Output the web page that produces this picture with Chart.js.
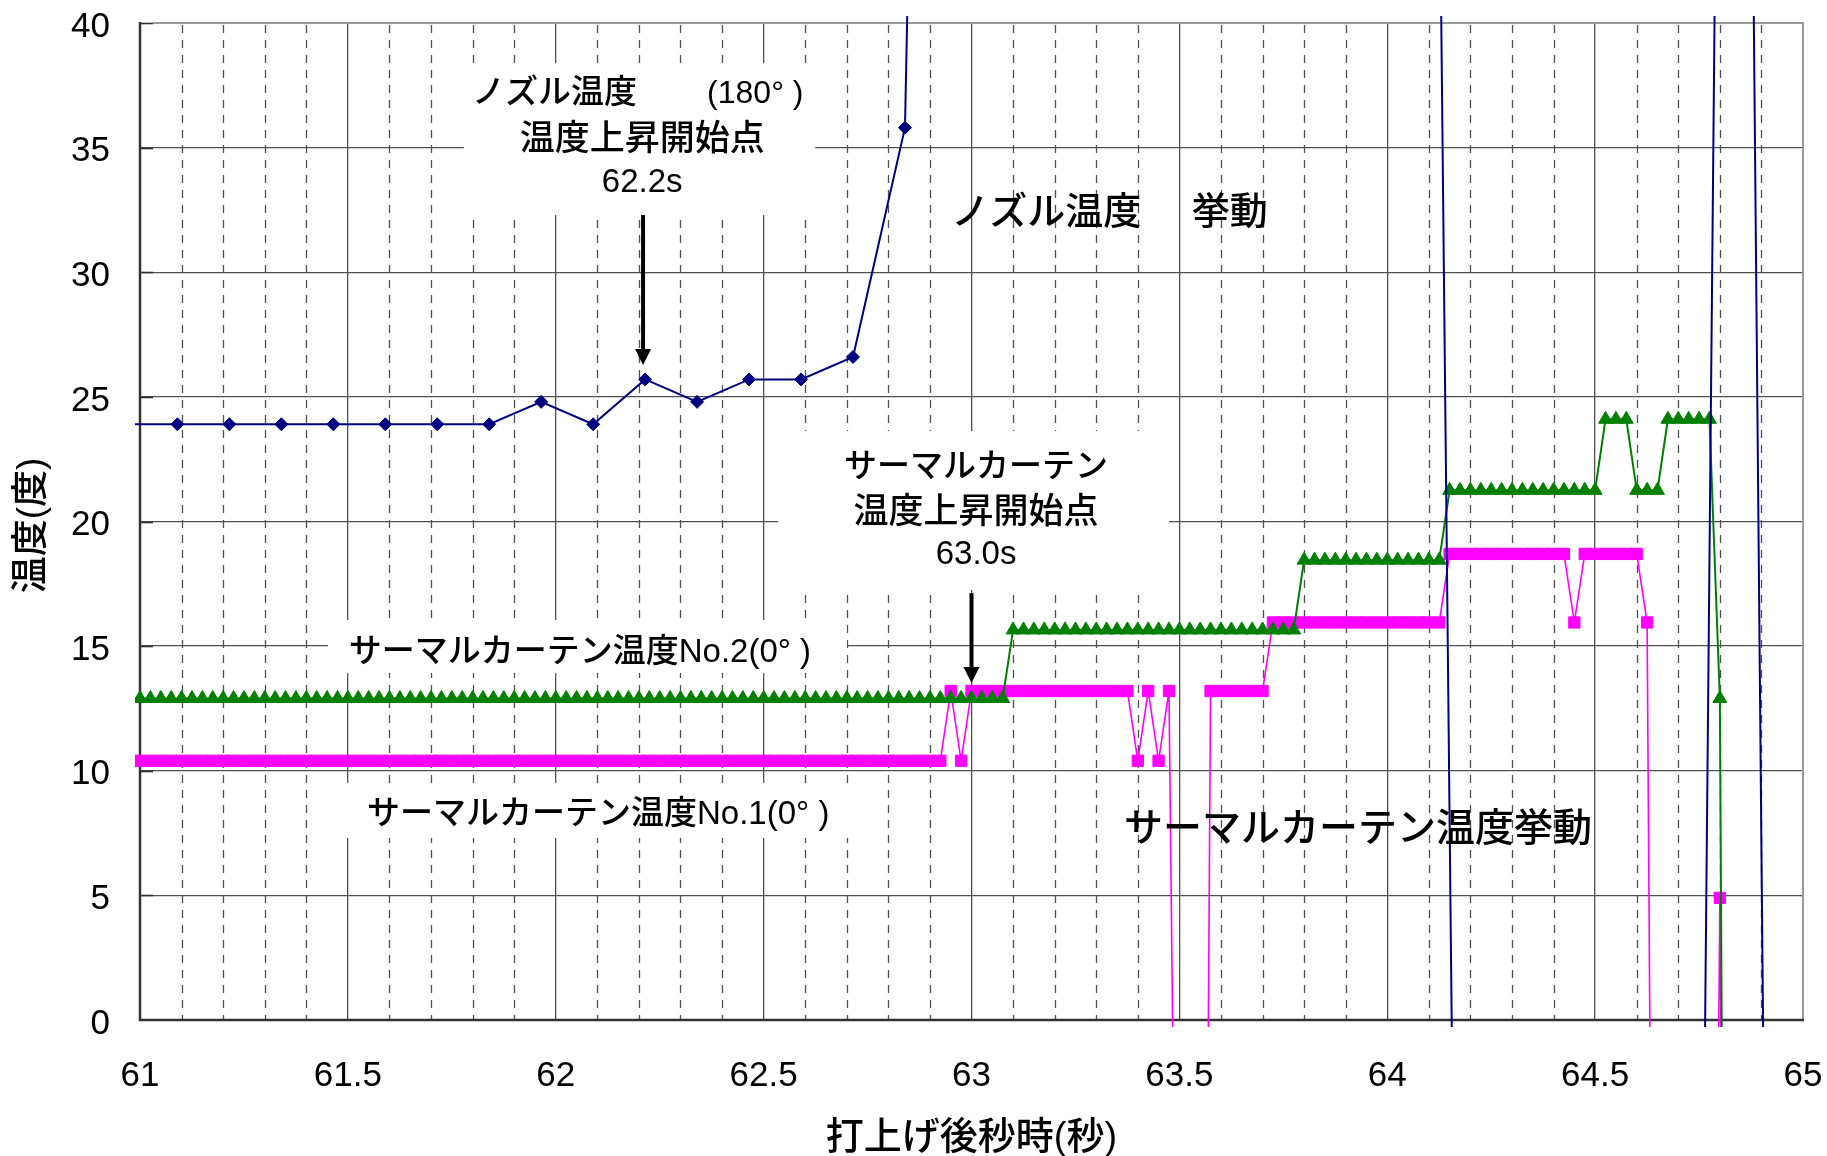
<!DOCTYPE html>
<html lang="ja">
<head>
<meta charset="utf-8">
<title>ノズル温度・サーマルカーテン温度挙動</title>
<script src="https://cdn.jsdelivr.net/npm/chart.js@4.4.1/dist/chart.umd.min.js"></script>
<style>
  html, body { margin: 0; padding: 0; background: #fff; }
  #wrap { width: 1827px; height: 1156px; }
</style>
</head>
<body>
<div id="wrap"><canvas id="c" width="1827" height="1156"></canvas></div>
<script>
// ---- measured data -------------------------------------------------------
// thermal curtain sensors, sampled every 0.025 s (seconds after launch)
const curtainTime = [
  60.975,
  61,61.025,61.05,61.075,61.1,61.125,61.15,61.175,61.2,61.225,
  61.25,61.275,61.3,61.325,61.35,61.375,61.4,61.425,61.45,61.475,
  61.5,61.525,61.55,61.575,61.6,61.625,61.65,61.675,61.7,61.725,
  61.75,61.775,61.8,61.825,61.85,61.875,61.9,61.925,61.95,61.975,
  62,62.025,62.05,62.075,62.1,62.125,62.15,62.175,62.2,62.225,
  62.25,62.275,62.3,62.325,62.35,62.375,62.4,62.425,62.45,62.475,
  62.5,62.525,62.55,62.575,62.6,62.625,62.65,62.675,62.7,62.725,
  62.75,62.775,62.8,62.825,62.85,62.875,62.9,62.925,62.95,62.975,
  63,63.025,63.05,63.075,63.1,63.125,63.15,63.175,63.2,63.225,
  63.25,63.275,63.3,63.325,63.35,63.375,63.4,63.425,63.45,63.475,
  63.5,63.525,63.55,63.575,63.6,63.625,63.65,63.675,63.7,63.725,
  63.75,63.775,63.8,63.825,63.85,63.875,63.9,63.925,63.95,63.975,
  64,64.025,64.05,64.075,64.1,64.125,64.15,64.175,64.2,64.225,
  64.25,64.275,64.3,64.325,64.35,64.375,64.4,64.425,64.45,64.475,
  64.5,64.525,64.55,64.575,64.6,64.625,64.65,64.675,64.7,64.725,
  64.75,64.775,64.8,64.825
];

// サーマルカーテン温度No.2(0°)
const curtainNo2 = [
  12.9,
  12.9,12.9,12.9,12.9,12.9,12.9,12.9,12.9,12.9,12.9,
  12.9,12.9,12.9,12.9,12.9,12.9,12.9,12.9,12.9,12.9,
  12.9,12.9,12.9,12.9,12.9,12.9,12.9,12.9,12.9,12.9,
  12.9,12.9,12.9,12.9,12.9,12.9,12.9,12.9,12.9,12.9,
  12.9,12.9,12.9,12.9,12.9,12.9,12.9,12.9,12.9,12.9,
  12.9,12.9,12.9,12.9,12.9,12.9,12.9,12.9,12.9,12.9,
  12.9,12.9,12.9,12.9,12.9,12.9,12.9,12.9,12.9,12.9,
  12.9,12.9,12.9,12.9,12.9,12.9,12.9,12.9,12.9,12.9,
  12.9,12.9,12.9,12.9,15.65,15.65,15.65,15.65,15.65,15.65,
  15.65,15.65,15.65,15.65,15.65,15.65,15.65,15.65,15.65,15.65,
  15.65,15.65,15.65,15.65,15.65,15.65,15.65,15.65,15.65,15.65,
  15.65,15.65,18.45,18.45,18.45,18.45,18.45,18.45,18.45,18.45,
  18.45,18.45,18.45,18.45,18.45,18.45,21.25,21.25,21.25,21.25,
  21.25,21.25,21.25,21.25,21.25,21.25,21.25,21.25,21.25,21.25,
  21.25,24.1,24.1,24.1,21.25,21.25,21.25,24.1,24.1,24.1,
  24.1,24.1,12.9,-60
];

// サーマルカーテン温度No.1(0°)
const curtainNo1 = [
  10.4,
  10.4,10.4,10.4,10.4,10.4,10.4,10.4,10.4,10.4,10.4,
  10.4,10.4,10.4,10.4,10.4,10.4,10.4,10.4,10.4,10.4,
  10.4,10.4,10.4,10.4,10.4,10.4,10.4,10.4,10.4,10.4,
  10.4,10.4,10.4,10.4,10.4,10.4,10.4,10.4,10.4,10.4,
  10.4,10.4,10.4,10.4,10.4,10.4,10.4,10.4,10.4,10.4,
  10.4,10.4,10.4,10.4,10.4,10.4,10.4,10.4,10.4,10.4,
  10.4,10.4,10.4,10.4,10.4,10.4,10.4,10.4,10.4,10.4,
  10.4,10.4,10.4,10.4,10.4,10.4,10.4,10.4,13.2,10.4,
  13.2,13.2,13.2,13.2,13.2,13.2,13.2,13.2,13.2,13.2,
  13.2,13.2,13.2,13.2,13.2,13.2,10.4,13.2,10.4,13.2,
  -25,-50,-50,13.2,13.2,13.2,13.2,13.2,13.2,15.95,
  15.95,15.95,15.95,15.95,15.95,15.95,15.95,15.95,15.95,15.95,
  15.95,15.95,15.95,15.95,15.95,15.95,18.7,18.7,18.7,18.7,
  18.7,18.7,18.7,18.7,18.7,18.7,18.7,18.7,15.95,18.7,
  18.7,18.7,18.7,18.7,18.7,15.95,-45,-45,-45,-45,
  -45,-45,4.9,-45
];

// ノズル温度(180°), sampled about every 0.125 s
const nozzleTime = [
  60.965, 61.09, 61.215, 61.34, 61.465, 61.59, 61.715, 61.84, 61.965, 62.09,
  62.215, 62.34, 62.465, 62.59, 62.715, 62.84, 62.96, 63.085, 63.21, 63.335,
  63.46, 63.585, 63.71, 63.835, 63.96, 64.085, 64.21, 64.335, 64.46, 64.585,
  64.71, 64.835, 64.96
];
const nozzle180 = [
  23.9, 23.9, 23.9, 23.9, 23.9, 23.9, 23.9, 23.9, 24.8, 23.9,
  25.7, 24.8, 25.7, 25.7, 26.6, 35.8, 136, 210, 280, 330,
  360, 380, 350, 300, 220, 112, -88, -100, -100, -100,
  -97, 125, -102
];

// axis ranges and tick steps
const xRange = [61, 65];
const xMajorStep = 0.5;
const xMinorStep = 0.1;
const yRange = [0, 40];
const yStep = 5;

const xTitle = '打上げ後秒時(秒)';
const yTitle = '温度(度)';

// ---- annotation layout (in data units) -----------------------------------
const maskBoxes = [
  { t0: 61.779, t1: 62.624, v0: 32.30, v1: 38.39 },
  { t0: 62.535, t1: 63.475, v0: 17.25, v1: 23.63 },
  { t0: 61.452, t1: 62.700, v0: 13.92, v1: 16.05 },
  { t0: 61.488, t1: 62.737, v0: 7.30,  v1: 9.51 }
];
const notes = [
  { t: 61.7985, v: 37.15, text: 'ノズル温度', align: 'left', size: 33 },
  { t: 62.364, v: 37.15, text: '(180° )', align: 'left', size: 32 },
  { t: 62.208, v: 35.29, text: '温度上昇開始点', align: 'center', size: 35 },
  { t: 62.208, v: 33.57, text: '62.2s', align: 'center', size: 33 },
  { t: 63.011, v: 22.17, text: 'サーマルカーテン', align: 'center', size: 33 },
  { t: 63.011, v: 20.31, text: '温度上昇開始点', align: 'center', size: 35 },
  { t: 63.011, v: 18.64, text: '63.0s', align: 'center', size: 33 },
  { t: 61.502, v: 14.73, text: 'サーマルカーテン温度No.2(0° )', align: 'left', size: 33 },
  { t: 61.546, v: 8.21,  text: 'サーマルカーテン温度No.1(0° )', align: 'left', size: 33 },
  { t: 62.951, v: 32.36, text: 'ノズル温度', align: 'left', size: 38 },
  { t: 63.530, v: 32.36, text: '挙動', align: 'left', size: 38 },
  { t: 63.367, v: 7.61,  text: 'サーマルカーテン温度挙動', align: 'left', size: 39 }
];
const arrows = [
  { t: 62.21, from: 32.3, to: 26.28 },
  { t: 63.0,  from: 17.13, to: 13.52 }
];

// ---- drawing --------------------------------------------------------------
const FONT = '"Liberation Sans", "Noto Sans CJK JP", Arial, sans-serif';
const pts = (xs, ys) => xs.map((x, i) => ({ x: x, y: ys[i] }));
const CLIP = { left: 5, top: 7, right: 7, bottom: 7 };

const framePlugin = {
  id: 'frame',
  beforeDatasetsDraw(chart) {
    const { ctx, chartArea: a, scales: { x, y } } = chart;
    ctx.save();
    // dashed minor verticals
    ctx.strokeStyle = '#505050';
    ctx.lineWidth = 1.3;
    ctx.setLineDash([8, 7]);
    const nMinor = Math.round((xRange[1] - xRange[0]) / xMinorStep);
    const perMajor = Math.round(xMajorStep / xMinorStep);
    for (let i = 1; i < nMinor; i++) {
      if (i % perMajor === 0) continue;
      const px = Math.round(x.getPixelForValue(xRange[0] + i * xMinorStep)) + 0.5;
      ctx.beginPath();
      ctx.moveTo(px, a.top + 2);
      ctx.lineTo(px, a.bottom);
      ctx.stroke();
    }
    ctx.setLineDash([]);
    // white boxes behind the captions
    ctx.fillStyle = '#ffffff';
    maskBoxes.forEach(b => {
      const l = x.getPixelForValue(b.t0), r = x.getPixelForValue(b.t1);
      const t = y.getPixelForValue(b.v1), bt = y.getPixelForValue(b.v0);
      ctx.fillRect(l, t, r - l, bt - t);
    });
    // inner tick marks on the value axis
    ctx.strokeStyle = '#303030';
    ctx.lineWidth = 1.6;
    for (let v = yRange[0] + yStep; v <= yRange[1]; v += yStep) {
      const py = Math.round(y.getPixelForValue(v)) + 0.5;
      ctx.beginPath();
      ctx.moveTo(a.left, py);
      ctx.lineTo(a.left + 13, py);
      ctx.stroke();
    }
    // plot frame: light top/right, dark axes
    ctx.strokeStyle = '#9a9a9a';
    ctx.lineWidth = 2;
    ctx.beginPath();
    ctx.moveTo(a.left + 13, a.top);
    ctx.lineTo(a.right, a.top);
    ctx.lineTo(a.right, a.bottom);
    ctx.stroke();
    ctx.strokeStyle = '#333333';
    ctx.lineWidth = 2.5;
    ctx.beginPath();
    ctx.moveTo(a.left, a.top - 1);
    ctx.lineTo(a.left, a.bottom);
    ctx.lineTo(a.right + 1, a.bottom);
    ctx.stroke();
    ctx.restore();
  },
  afterDatasetsDraw(chart) {
    const { ctx, chartArea: a, scales: { x, y } } = chart;
    ctx.save();
    ctx.fillStyle = '#000';
    ctx.textBaseline = 'middle';
    notes.forEach(n => {
      ctx.font = '500 ' + n.size + 'px ' + FONT;
      ctx.textAlign = n.align;
      ctx.fillText(n.text, x.getPixelForValue(n.t), y.getPixelForValue(n.v));
    });
    // arrows
    ctx.strokeStyle = '#000';
    ctx.lineWidth = 4;
    arrows.forEach(ar => {
      const px = x.getPixelForValue(ar.t);
      const y0 = y.getPixelForValue(ar.from);
      const y1 = y.getPixelForValue(ar.to);
      ctx.beginPath();
      ctx.moveTo(px, y0);
      ctx.lineTo(px, y1 - 12);
      ctx.stroke();
      ctx.beginPath();
      ctx.moveTo(px - 8, y1 - 16);
      ctx.lineTo(px + 8, y1 - 16);
      ctx.lineTo(px, y1);
      ctx.closePath();
      ctx.fill();
    });
    // axis titles
    ctx.font = '500 38px ' + FONT;
    ctx.textAlign = 'center';
    ctx.fillText(xTitle, (a.left + a.right) / 2, 1139);
    ctx.translate(33, (a.top + a.bottom) / 2 + 4);
    ctx.rotate(-Math.PI / 2);
    ctx.font = '500 37px ' + FONT;
    ctx.fillText(yTitle, 0, 0);
    ctx.restore();
  }
};

const gridColor = (edgeVals) => (c) =>
  (c.tick && edgeVals.some(v => Math.abs(c.tick.value - v) < 1e-9)) ? 'rgba(0,0,0,0)' : '#505050';

new Chart(document.getElementById('c'), {
  type: 'line',
  data: {
    datasets: [
      {
        label: 'ノズル温度(180°)',
        data: pts(nozzleTime, nozzle180),
        borderColor: '#000080',
        backgroundColor: '#000080',
        borderWidth: 2,
        pointStyle: 'rectRot',
        pointRadius: 6.5,
        pointBorderWidth: 1,
        pointBackgroundColor: '#000080',
        pointBorderColor: '#000080',
        tension: 0,
        clip: CLIP
      },
      {
        label: 'サーマルカーテン温度No.2(0°)',
        data: pts(curtainTime, curtainNo2),
        borderColor: '#008000',
        backgroundColor: '#008000',
        borderWidth: 2,
        pointStyle: 'triangle',
        pointRadius: 8,
        pointBorderWidth: 1,
        pointBackgroundColor: '#008000',
        pointBorderColor: '#008000',
        tension: 0,
        clip: CLIP
      },
      {
        label: 'サーマルカーテン温度No.1(0°)',
        data: pts(curtainTime, curtainNo1),
        borderColor: '#ff00ff',
        backgroundColor: '#ff00ff',
        borderWidth: 1.6,
        pointStyle: 'rect',
        pointRadius: 8,
        pointBorderWidth: 1,
        pointBackgroundColor: '#ff00ff',
        pointBorderColor: '#ff00ff',
        tension: 0,
        clip: CLIP
      }
    ]
  },
  options: {
    responsive: false,
    animation: false,
    devicePixelRatio: 1,
    events: [],
    layout: { padding: { left: 0, right: 24, top: 23, bottom: 0 } },
    plugins: {
      legend: { display: false },
      tooltip: { enabled: false }
    },
    scales: {
      x: {
        type: 'linear',
        min: xRange[0],
        max: xRange[1],
        afterFit(s) { s.height = 136; s.paddingLeft = 0; s.paddingRight = 0; },
        border: { display: false },
        grid: { color: gridColor(xRange), lineWidth: 1.3, drawTicks: false },
        ticks: {
          stepSize: xMajorStep,
          autoSkip: false,
          maxRotation: 0,
          padding: 35,
          color: '#000',
          font: { family: FONT, size: 35 },
          callback: (v) => String(Number(v.toFixed(1)))
        }
      },
      y: {
        type: 'linear',
        min: yRange[0],
        max: yRange[1],
        afterFit(s) { s.width = 140; s.paddingTop = 0; s.paddingBottom = 0; },
        border: { display: false },
        grid: { color: gridColor(yRange), lineWidth: 1.3, drawTicks: false },
        ticks: {
          stepSize: yStep,
          padding: 30,
          labelOffset: 4,
          color: '#000',
          font: { family: FONT, size: 35 }
        }
      }
    }
  },
  plugins: [framePlugin]
});
</script>
</body>
</html>
